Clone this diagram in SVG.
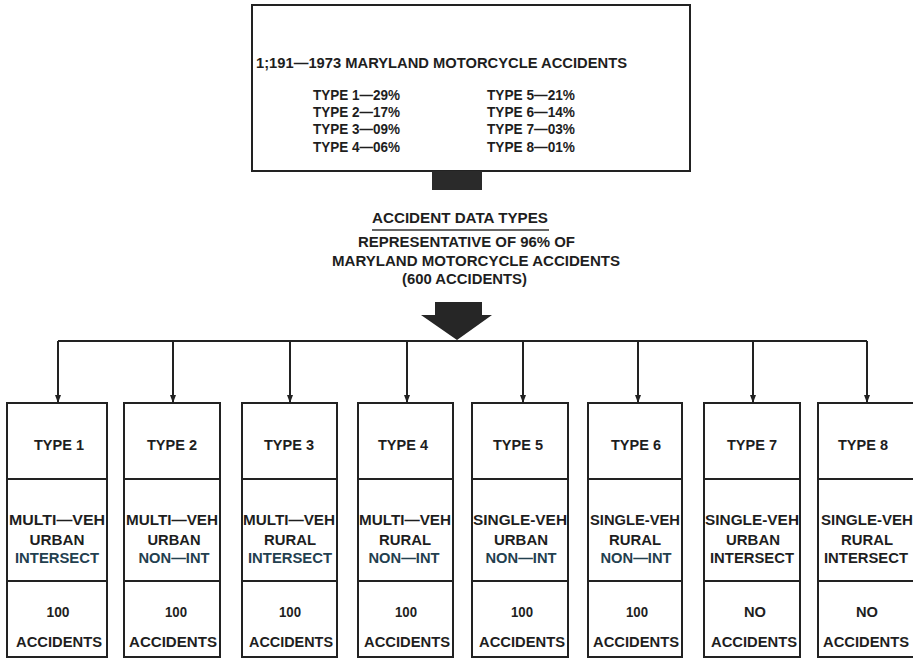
<svg xmlns="http://www.w3.org/2000/svg" width="913" height="660" viewBox="0 0 913 660">
<defs>
<marker id="ah" viewBox="0 0 8 6" refX="8" refY="3" markerWidth="8" markerHeight="6" markerUnits="userSpaceOnUse" orient="auto">
<path d="M0,0 L8,3 L0,6 Z" fill="#222"/>
</marker>
</defs>
<style>
text{font-family:"Liberation Sans",Arial,sans-serif;font-weight:bold;fill:#1e1e1e;font-size:14px}
.box{fill:#fff;stroke:#222;stroke-width:2}
.div{stroke:#222;stroke-width:2}
.c{text-anchor:middle}
.t{fill:#23404f}
.con{stroke:#222;stroke-width:2;fill:none}
</style>
<rect width="913" height="660" fill="#fff"/>

<g id="summary">
<rect class="box" x="252" y="5" width="438" height="166"/>
<text x="256" y="68" textLength="371" lengthAdjust="spacingAndGlyphs">1;191—1973 MARYLAND MOTORCYCLE ACCIDENTS</text>
<text x="313" y="100" textLength="87" lengthAdjust="spacingAndGlyphs">TYPE 1—29%</text>
<text x="313" y="117" textLength="87" lengthAdjust="spacingAndGlyphs">TYPE 2—17%</text>
<text x="313" y="134" textLength="87" lengthAdjust="spacingAndGlyphs">TYPE 3—09%</text>
<text x="313" y="152" textLength="87" lengthAdjust="spacingAndGlyphs">TYPE 4—06%</text>
<text x="487" y="100" textLength="88" lengthAdjust="spacingAndGlyphs">TYPE 5—21%</text>
<text x="487" y="117" textLength="88" lengthAdjust="spacingAndGlyphs">TYPE 6—14%</text>
<text x="487" y="134" textLength="88" lengthAdjust="spacingAndGlyphs">TYPE 7—03%</text>
<text x="487" y="152" textLength="88" lengthAdjust="spacingAndGlyphs">TYPE 8—01%</text>
</g>

<g id="data-types">
<rect x="432" y="171" width="50" height="19" fill="#2a2a2a"/>
<text x="372" y="223" textLength="176" lengthAdjust="spacingAndGlyphs">ACCIDENT DATA TYPES</text>
<line x1="372" y1="230" x2="549" y2="230" stroke="#333" stroke-width="1.5"/>
<text x="358" y="247" textLength="217" lengthAdjust="spacingAndGlyphs">REPRESENTATIVE OF 96% OF</text>
<text x="332" y="266" textLength="288" lengthAdjust="spacingAndGlyphs">MARYLAND MOTORCYCLE ACCIDENTS</text>
<text x="402" y="284" textLength="125" lengthAdjust="spacingAndGlyphs">(600 ACCIDENTS)</text>
<polygon points="435,302 482,302 482,315 492,315 457,340 421,315 435,315" fill="#262626"/>
</g>

<g id="connectors">
<line class="con" x1="58" y1="341" x2="867" y2="341"/>
<line class="con" x1="58" y1="341" x2="58" y2="403" marker-end="url(#ah)"/>
<line class="con" x1="173" y1="341" x2="173" y2="403" marker-end="url(#ah)"/>
<line class="con" x1="290" y1="341" x2="290" y2="403" marker-end="url(#ah)"/>
<line class="con" x1="407" y1="341" x2="407" y2="403" marker-end="url(#ah)"/>
<line class="con" x1="523" y1="341" x2="523" y2="403" marker-end="url(#ah)"/>
<line class="con" x1="638" y1="341" x2="638" y2="403" marker-end="url(#ah)"/>
<line class="con" x1="753" y1="341" x2="753" y2="403" marker-end="url(#ah)"/>
<line class="con" x1="867" y1="341" x2="867" y2="403" marker-end="url(#ah)"/>
</g>

<g id="type1">
<rect class="box" x="7" y="403" width="100" height="254"/>
<line class="div" x1="7" y1="479" x2="107" y2="479"/>
<line class="div" x1="7" y1="581" x2="107" y2="581"/>
<text class="c" x="59" y="450" textLength="50" lengthAdjust="spacingAndGlyphs">TYPE 1</text>
<text class="c" x="57" y="525" textLength="96" lengthAdjust="spacingAndGlyphs">MULTI—VEH</text>
<text class="c" x="57" y="545" textLength="55" lengthAdjust="spacingAndGlyphs">URBAN</text>
<text class="c t" x="57" y="563" textLength="84" lengthAdjust="spacingAndGlyphs">INTERSECT</text>
<text class="c" x="58" y="617" textLength="23" lengthAdjust="spacingAndGlyphs">100</text>
<text class="c" x="59" y="647" textLength="86" lengthAdjust="spacingAndGlyphs">ACCIDENTS</text>
</g>

<g id="type2">
<rect class="box" x="124" y="403" width="96" height="254"/>
<line class="div" x1="124" y1="479" x2="220" y2="479"/>
<line class="div" x1="124" y1="581" x2="220" y2="581"/>
<text class="c" x="172" y="450" textLength="50" lengthAdjust="spacingAndGlyphs">TYPE 2</text>
<text class="c" x="172" y="525" textLength="92" lengthAdjust="spacingAndGlyphs">MULTI—VEH</text>
<text class="c" x="174" y="545" textLength="53" lengthAdjust="spacingAndGlyphs">URBAN</text>
<text class="c t" x="174" y="563" textLength="71" lengthAdjust="spacingAndGlyphs">NON—INT</text>
<text class="c" x="176" y="617" textLength="22" lengthAdjust="spacingAndGlyphs">100</text>
<text class="c" x="173" y="647" textLength="88" lengthAdjust="spacingAndGlyphs">ACCIDENTS</text>
</g>

<g id="type3">
<rect class="box" x="242" y="403" width="95" height="254"/>
<line class="div" x1="242" y1="479" x2="337" y2="479"/>
<line class="div" x1="242" y1="581" x2="337" y2="581"/>
<text class="c" x="289" y="450" textLength="50" lengthAdjust="spacingAndGlyphs">TYPE 3</text>
<text class="c" x="289" y="525" textLength="92" lengthAdjust="spacingAndGlyphs">MULTI—VEH</text>
<text class="c" x="290" y="545" textLength="52" lengthAdjust="spacingAndGlyphs">RURAL</text>
<text class="c t" x="290" y="563" textLength="84" lengthAdjust="spacingAndGlyphs">INTERSECT</text>
<text class="c" x="290" y="617" textLength="22" lengthAdjust="spacingAndGlyphs">100</text>
<text class="c" x="291" y="647" textLength="84" lengthAdjust="spacingAndGlyphs">ACCIDENTS</text>
</g>

<g id="type4">
<rect class="box" x="358" y="403" width="95" height="254"/>
<line class="div" x1="358" y1="479" x2="453" y2="479"/>
<line class="div" x1="358" y1="581" x2="453" y2="581"/>
<text class="c" x="403" y="450" textLength="50" lengthAdjust="spacingAndGlyphs">TYPE 4</text>
<text class="c" x="405" y="525" textLength="92" lengthAdjust="spacingAndGlyphs">MULTI—VEH</text>
<text class="c" x="405" y="545" textLength="52" lengthAdjust="spacingAndGlyphs">RURAL</text>
<text class="c t" x="404" y="563" textLength="71" lengthAdjust="spacingAndGlyphs">NON—INT</text>
<text class="c" x="406" y="617" textLength="22" lengthAdjust="spacingAndGlyphs">100</text>
<text class="c" x="407" y="647" textLength="86" lengthAdjust="spacingAndGlyphs">ACCIDENTS</text>
</g>

<g id="type5">
<rect class="box" x="472" y="403" width="96" height="254"/>
<line class="div" x1="472" y1="479" x2="568" y2="479"/>
<line class="div" x1="472" y1="581" x2="568" y2="581"/>
<text class="c" x="518" y="450" textLength="50" lengthAdjust="spacingAndGlyphs">TYPE 5</text>
<text class="c" x="520" y="525" textLength="94" lengthAdjust="spacingAndGlyphs">SINGLE-VEH</text>
<text class="c" x="521" y="545" textLength="54" lengthAdjust="spacingAndGlyphs">URBAN</text>
<text class="c t" x="521" y="563" textLength="71" lengthAdjust="spacingAndGlyphs">NON—INT</text>
<text class="c" x="522" y="617" textLength="22" lengthAdjust="spacingAndGlyphs">100</text>
<text class="c" x="522" y="647" textLength="86" lengthAdjust="spacingAndGlyphs">ACCIDENTS</text>
</g>

<g id="type6">
<rect class="box" x="588" y="403" width="94" height="254"/>
<line class="div" x1="588" y1="479" x2="682" y2="479"/>
<line class="div" x1="588" y1="581" x2="682" y2="581"/>
<text class="c" x="636" y="450" textLength="50" lengthAdjust="spacingAndGlyphs">TYPE 6</text>
<text class="c" x="635" y="525" textLength="90" lengthAdjust="spacingAndGlyphs">SINGLE-VEH</text>
<text class="c" x="635" y="545" textLength="52" lengthAdjust="spacingAndGlyphs">RURAL</text>
<text class="c t" x="636" y="563" textLength="71" lengthAdjust="spacingAndGlyphs">NON—INT</text>
<text class="c" x="637" y="617" textLength="22" lengthAdjust="spacingAndGlyphs">100</text>
<text class="c" x="636" y="647" textLength="86" lengthAdjust="spacingAndGlyphs">ACCIDENTS</text>
</g>

<g id="type7">
<rect class="box" x="704" y="403" width="96" height="254"/>
<line class="div" x1="704" y1="479" x2="800" y2="479"/>
<line class="div" x1="704" y1="581" x2="800" y2="581"/>
<text class="c" x="752" y="450" textLength="50" lengthAdjust="spacingAndGlyphs">TYPE 7</text>
<text class="c" x="752" y="525" textLength="94" lengthAdjust="spacingAndGlyphs">SINGLE-VEH</text>
<text class="c" x="753" y="545" textLength="54" lengthAdjust="spacingAndGlyphs">URBAN</text>
<text class="c" x="752" y="563" textLength="84" lengthAdjust="spacingAndGlyphs">INTERSECT</text>
<text class="c" x="755" y="617" textLength="22" lengthAdjust="spacingAndGlyphs">NO</text>
<text class="c" x="754" y="647" textLength="86" lengthAdjust="spacingAndGlyphs">ACCIDENTS</text>
</g>

<g id="type8">
<rect class="box" x="818" y="403" width="98" height="254"/>
<line class="div" x1="818" y1="479" x2="916" y2="479"/>
<line class="div" x1="818" y1="581" x2="916" y2="581"/>
<text class="c" x="863" y="450" textLength="50" lengthAdjust="spacingAndGlyphs">TYPE 8</text>
<text class="c" x="867" y="525" textLength="92" lengthAdjust="spacingAndGlyphs">SINGLE-VEH</text>
<text class="c" x="867" y="545" textLength="52" lengthAdjust="spacingAndGlyphs">RURAL</text>
<text class="c" x="866" y="563" textLength="84" lengthAdjust="spacingAndGlyphs">INTERSECT</text>
<text class="c" x="867" y="617" textLength="22" lengthAdjust="spacingAndGlyphs">NO</text>
<text class="c" x="866" y="647" textLength="86" lengthAdjust="spacingAndGlyphs">ACCIDENTS</text>
</g>
</svg>
